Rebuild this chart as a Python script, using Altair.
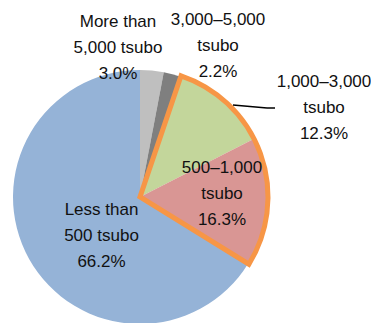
import math
import altair as alt
import pandas as pd

# ---- data ----
categories = ["More than 5,000 tsubo", "3,000–5,000 tsubo", "1,000–3,000 tsubo",
              "500–1,000 tsubo", "Less than 500 tsubo"]
shares = [3.0, 2.2, 12.3, 16.3, 66.2]
label_texts = ["More than\n5,000 tsubo\n3.0%", "3,000–5,000\ntsubo\n2.2%",
               "1,000–3,000\ntsubo\n12.3%", "500–1,000\ntsubo\n16.3%",
               "Less than\n500 tsubo\n66.2%"]
highlight = ["1,000–3,000 tsubo", "500–1,000 tsubo"]

# ---- style / layout ----
colors = ["#BFBFBF", "#7F7F7F", "#C3D69B", "#D99694", "#95B3D7"]
W, H = 363, 315
CX, CY, R = 132, 189, 127
label_xy = [(110, 14), (210, 12), (316, 74), (214, 160), (93.5, 202)]
leader = [(225, 97), (259, 100), (267, 100)]

starts, ends, acc = [], [], 0.0
for v in shares:
    starts.append(acc)
    acc += v
    ends.append(acc)

df = pd.DataFrame({"cat": categories, "start": starts, "end": ends, "idx": range(len(shares))})
hl = df[df.cat.isin(highlight)]
df_hl = pd.DataFrame({"start": [hl.start.min()], "end": [hl.end.max()]})

theta_scale = alt.Scale(domain=[0, 100], range=[0, 2 * math.pi])

pie = alt.Chart(df).mark_arc(radius=R, stroke=None).encode(
    theta=alt.Theta("start:Q", scale=theta_scale),
    theta2="end:Q",
    color=alt.Color("cat:N", scale=alt.Scale(domain=categories, range=colors), legend=None),
    x=alt.value(CX), y=alt.value(CY),
)

outline = alt.Chart(df_hl).mark_arc(radius=R + 1, fill=None, filled=False, stroke="#F79646",
                                    strokeWidth=5, strokeJoin="miter").encode(
    theta=alt.Theta("start:Q", scale=theta_scale),
    theta2="end:Q",
    x=alt.value(CX), y=alt.value(CY),
)

layers = [pie, outline]

for i in range(len(leader) - 1):
    (x1, y1), (x2, y2) = leader[i], leader[i + 1]
    layers.append(alt.Chart(df_hl).mark_rule(color="black", strokeWidth=1.5).encode(
        x=alt.value(x1), y=alt.value(y1), x2=alt.value(x2), y2=alt.value(y2)))

for txt, (lx, ly) in zip(label_texts, label_xy):
    ldf = pd.DataFrame({"t": [txt]})
    layers.append(alt.Chart(ldf).mark_text(
        font="Liberation Sans", fontSize=17, color="#111111", lineBreak="\n",
        lineHeight=26, align="center", baseline="middle").encode(
        text="t:N", x=alt.value(lx), y=alt.value(ly)))

chart = alt.layer(*layers).properties(
    width=W, height=H, autosize=alt.AutoSizeParams(type="none"), padding=0
).configure_view(stroke=None)

chart.save("out.html", embed_options={"renderer": "svg", "actions": False})
